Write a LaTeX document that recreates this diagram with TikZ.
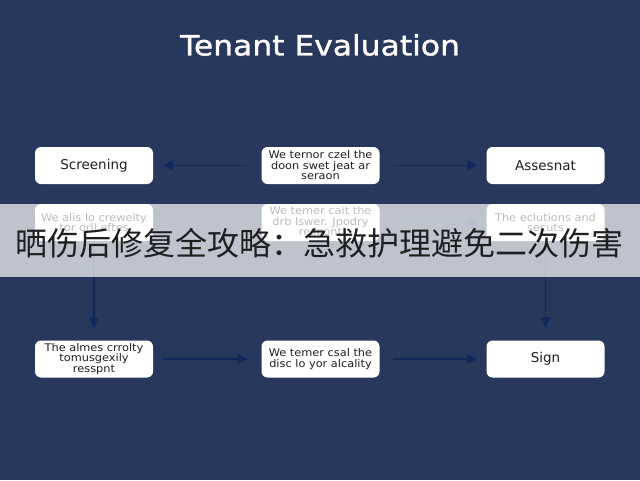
\documentclass[tikz,border=0pt]{standalone}
\usepackage{fontspec}
\setmainfont{DejaVu Sans}
\newfontfamily\titlefont[FakeBold=1.2,FakeStretch=1.12]{DejaVu Sans}
\newfontfamily\smallfont[FakeStretch=1.08]{DejaVu Sans}
\newfontfamily\cjk{Noto Sans CJK SC}
\usetikzlibrary{arrows.meta}
\definecolor{bgc}{RGB}{40,55,92}
\definecolor{arrowc}{RGB}{16,40,92}
\definecolor{boxtext}{RGB}{30,30,30}
\begin{document}
\begin{tikzpicture}[x=1pt,y=-1pt,
  box/.style={draw=none, fill=white, rounded corners=6pt, minimum width=118pt, minimum height=37pt, inner sep=2pt, align=center, font=\smallfont\fontsize{10.5}{10.5}\selectfont, text=boxtext},
  bigbox/.style={box, font=\fontsize{13.5}{15}\selectfont},
  conn/.style={draw=arrowc, line width=1.8pt, -{Triangle[length=10pt,width=10pt]}}
]
\fill[bgc] (0,0) rectangle (640,480);
\useasboundingbox (0,0) rectangle (640,480);
\node[font=\titlefont\fontsize{28}{30}\selectfont, text=white] (title) at (320,45) {Tenant Evaluation};
% row 1
\node[bigbox] (s1) at (94,165.5) {Screening};
\node[box] (m1) at (320.5,165.5) {We ternor czel the\\doon swet jeat ar\\seraon};
\node[bigbox] (a1) at (545.5,165.5) {Assesnat};
% row 2
\node[box] (l2) at (94,222.5) {We alis lo crewelty\\tor orll eftes};
\node[box] (m2) at (320.5,222.5) {We temer cait the\\drb lswer. Jpodry\\respont};
\node[box] (r2) at (545.5,222.5) {The eclutions and\\secuts};
% row 3
\node[box] (l3) at (94,359) {The almes crrolty\\tomusgexily\\resspnt};
\node[box] (m3) at (320.5,359) {We temer csal the\\disc lo yor alcality};
\node[bigbox] (r3) at (545.5,359) {Sign};
% connectors
\draw[conn] ([xshift=-14pt]m1.west) -- ([xshift=10pt]s1.east);
\draw[conn] ([xshift=13pt]m1.east) -- ([xshift=-9pt]a1.west);
\draw[conn] ([xshift=13pt]m2.east) -- ([xshift=-9pt]r2.west);
\draw[conn] (l2.south) -- ([yshift=13pt]l3.north);
\draw[conn] (r2.south) -- ([yshift=13pt]r3.north);
\draw[conn] ([xshift=10pt]l3.east) -- ([xshift=-14pt]m3.west);
\draw[conn] ([xshift=13pt]m3.east) -- ([xshift=-9pt]r3.west);
% overlay band
\fill[white, opacity=0.7] (0,204) rectangle (640,277);
\node[font=\cjk\fontsize{32}{34}\selectfont, text=black!88] (ad) at (320,243) {晒伤后修复全攻略：急救护理避免二次伤害};
\end{tikzpicture}
\end{document}
